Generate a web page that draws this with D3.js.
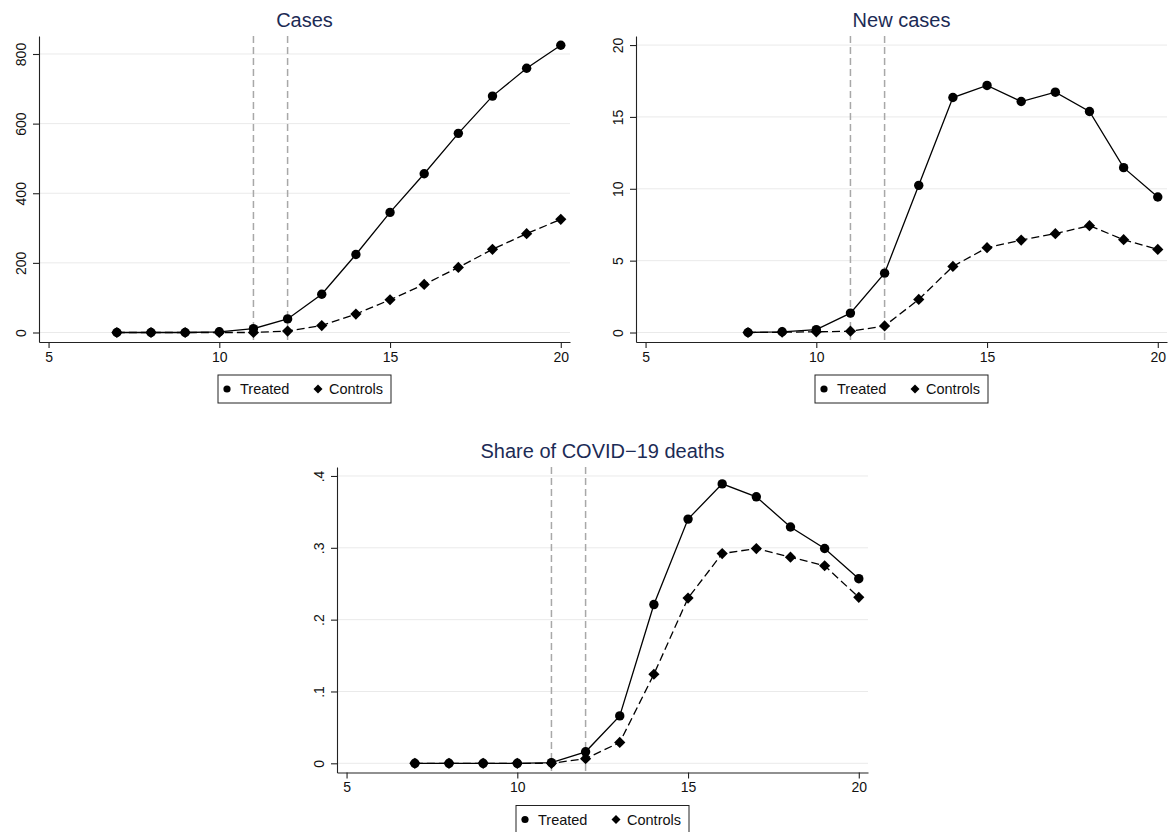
<!DOCTYPE html>
<html>
<head>
<meta charset="utf-8">
<script src="https://cdn.jsdelivr.net/npm/d3@7"></script>
<style>
  body { margin: 0; background: white; }
  svg { display: block; font-family: 'Liberation Sans', Arial, sans-serif; }
</style>
</head>
<body>
<script>
// weeks
const weeksA = [7, 8, 9, 10, 11, 12, 13, 14, 15, 16, 17, 18, 19, 20];
const weeksB = [8, 9, 10, 11, 12, 13, 14, 15, 16, 17, 18, 19, 20];

// Cases
const casesTreated = [0, 0, 0, 2, 11, 39, 110, 224, 345, 456, 572, 679, 759, 825];
const casesControls = [0, 0, 0, 0, 0, 4, 20, 53, 94, 138, 187, 239, 284, 325];

// New cases
const newTreated = [0, 0.05, 0.2, 1.35, 4.13, 10.24, 16.35, 17.19, 16.07, 16.72, 15.38, 11.47, 9.43];
const newControls = [0, 0.02, 0.05, 0.09, 0.46, 2.3, 4.6, 5.9, 6.43, 6.88, 7.43, 6.46, 5.78];

// Share of COVID-19 deaths
const shareTreated = [0, 0, 0, 0, 0.001, 0.016, 0.066, 0.221, 0.34, 0.389, 0.371, 0.329, 0.299, 0.257];
const shareControls = [0, 0, 0, 0, 0, 0.0065, 0.029, 0.124, 0.23, 0.292, 0.299, 0.287, 0.275, 0.231];

const xTicks = [5, 10, 15, 20];
const eventWeeks = [11, 12];
const legendLabels = ['Treated', 'Controls'];

let svg = d3.select('body').append('svg').attr('width', 1168).attr('height', 832);

let panels = [
  {
    title: 'Cases', weeks: weeksA, treated: casesTreated, controls: casesControls,
    box: { left: 39, right: 570, top: 36, bottom: 342 },
    yDomain: [-27.3, 851.7], yTicks: [0, 200, 400, 600, 800], fmt: d => d
  },
  {
    title: 'New cases', weeks: weeksB, treated: newTreated, controls: newControls,
    box: { left: 636, right: 1167, top: 36, bottom: 342 },
    yDomain: [-0.66, 20.63], yTicks: [0, 5, 10, 15, 20], fmt: d => d
  },
  {
    title: 'Share of COVID\u221219 deaths', weeks: weeksA, treated: shareTreated, controls: shareControls,
    box: { left: 337, right: 868, top: 467, bottom: 772.5 },
    yDomain: [-0.0128, 0.4125], yTicks: [0, 0.1, 0.2, 0.3, 0.4],
    fmt: d => (d === 0 ? '0' : d3.format('.1f')(d).replace(/^0/, ''))
  }
];

panels.forEach(drawPanel);

function diamond(cx, cy, h) {
  return `M${cx},${cy - h}L${cx + h},${cy}L${cx},${cy + h}L${cx - h},${cy}Z`;
}

function drawPanel(p) {
  let b = p.box;
  let x = d3.scaleLinear().domain([4.72, 20.27]).range([b.left, b.right]);
  let y = d3.scaleLinear().domain(p.yDomain).range([b.bottom, b.top]);
  let g = svg.append('g');

  // grid
  g.selectAll('.grid').data(p.yTicks).enter().append('line')
    .attr('x1', b.left).attr('x2', b.right)
    .attr('y1', d => y(d)).attr('y2', d => y(d))
    .attr('stroke', '#eaeaea').attr('stroke-width', 1);

  // event lines
  g.selectAll('.ev').data(eventWeeks).enter().append('line')
    .attr('x1', d => x(d)).attr('x2', d => x(d))
    .attr('y1', b.top).attr('y2', b.bottom)
    .attr('stroke', '#a8a8a8').attr('stroke-width', 1.5)
    .attr('stroke-dasharray', '7 4');

  // axes
  let ax = g.append('g').attr('transform', `translate(0,${b.bottom})`)
    .call(d3.axisBottom(x).tickValues(xTicks).tickSize(6).tickSizeOuter(0).tickPadding(4));
  ax.selectAll('text').attr('font-size', 14).attr('fill', '#111');

  let ay = g.append('g').attr('transform', `translate(${b.left},0)`)
    .call(d3.axisLeft(y).tickValues(p.yTicks).tickFormat(p.fmt).tickSize(6).tickSizeOuter(0));
  ay.selectAll('text')
    .attr('font-size', 14).attr('fill', '#111')
    .attr('transform', 'rotate(-90)')
    .attr('x', 0).attr('y', -13).attr('dy', 0)
    .attr('text-anchor', 'middle');
  g.selectAll('.domain, .tick line').attr('stroke', '#222').attr('stroke-width', 1.1);

  // title
  g.append('text')
    .attr('x', (b.left + b.right) / 2).attr('y', b.top - 9)
    .attr('text-anchor', 'middle').attr('font-size', 20)
    .attr('fill', '#1c2b55').text(p.title);

  // series
  let pts = (vals) => p.weeks.map((w, i) => [w, vals[i]]);
  let line = d3.line().x(d => x(d[0])).y(d => y(d[1]));

  g.append('path').datum(pts(p.treated)).attr('d', line)
    .attr('fill', 'none').attr('stroke', '#000').attr('stroke-width', 1.3);
  g.selectAll('.tr').data(pts(p.treated)).enter().append('circle')
    .attr('cx', d => x(d[0])).attr('cy', d => y(d[1])).attr('r', 4.7).attr('fill', '#000');

  g.append('path').datum(pts(p.controls)).attr('d', line)
    .attr('fill', 'none').attr('stroke', '#000').attr('stroke-width', 1.3)
    .attr('stroke-dasharray', '8 4');
  g.selectAll('.ct').data(pts(p.controls)).enter().append('path')
    .attr('d', d => diamond(x(d[0]), y(d[1]), 5.6)).attr('fill', '#000');

  // legend
  let lw = 173, lh = 28;
  let lx = (b.left + b.right) / 2 - lw / 2, ly = b.bottom + 33;
  let lg = g.append('g').attr('transform', `translate(${lx},${ly})`);
  lg.append('rect').attr('width', lw).attr('height', lh)
    .attr('fill', 'white').attr('stroke', '#222').attr('stroke-width', 1);
  lg.append('circle').attr('cx', 9).attr('cy', lh / 2).attr('r', 3.6).attr('fill', '#000');
  lg.append('text').attr('x', 22).attr('y', lh / 2 + 5).attr('font-size', 14.5)
    .attr('fill', '#111').text(legendLabels[0]);
  lg.append('path').attr('d', diamond(100, lh / 2, 4.5)).attr('fill', '#000');
  lg.append('text').attr('x', 111).attr('y', lh / 2 + 5).attr('font-size', 14.5)
    .attr('fill', '#111').text(legendLabels[1]);
}
</script>
</body>
</html>
